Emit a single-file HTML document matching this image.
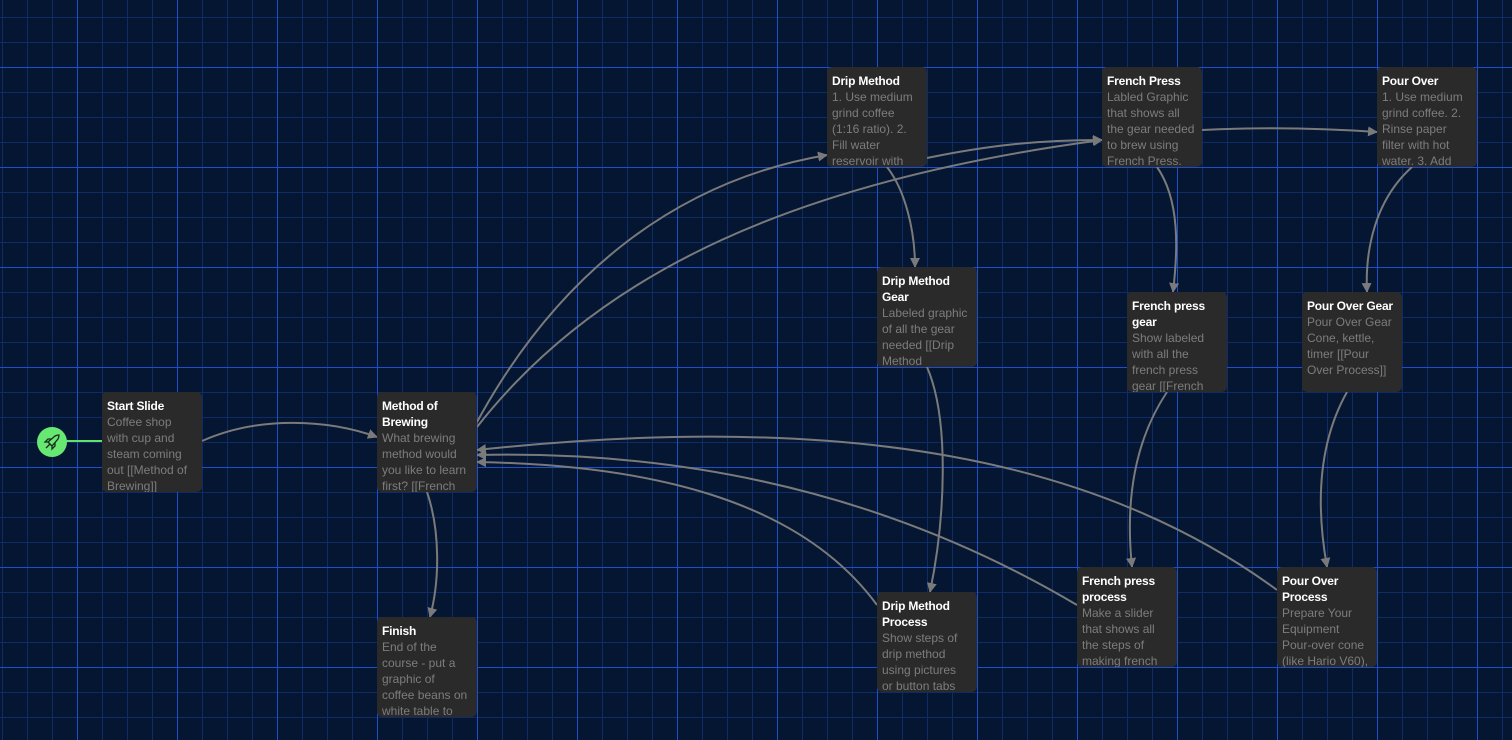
<!DOCTYPE html>
<html><head><meta charset="utf-8"><style>
html,body{margin:0;padding:0;}
body{width:1512px;height:740px;overflow:hidden;position:relative;background:#051633;
font-family:"Liberation Sans","DejaVu Sans",sans-serif;}
.n{position:absolute;width:100px;height:100px;background:#2a2a2a;border-radius:5px;box-sizing:border-box;padding:6px 7px 0 5px;overflow:hidden;font-size:12px;line-height:16px;color:#7d7d7d;}
.n b{display:block;color:#fff;font-weight:bold;letter-spacing:-0.2px;}
svg{position:absolute;left:0;top:0;}
</style></head><body>
<svg width="1512" height="740">
<defs>
<pattern id="g" width="100" height="100" patternUnits="userSpaceOnUse" x="77" y="67">
<path d="M25.5,0V100M50.5,0V100M75.5,0V100M0,25.5H100M0,50.5H100M0,75.5H100" stroke="#0f2c66" stroke-width="1"/>
<path d="M0.5,0V100M0,0.5H100" stroke="#1f4fc8" stroke-width="1"/>
</pattern>
<marker id="a" markerWidth="10" markerHeight="10" refX="9" refY="5" orient="auto" markerUnits="userSpaceOnUse"><path d="M0,0 L10,5 L0,10 z" fill="#7a7a7a"/></marker></defs>
<rect width="1512" height="740" fill="url(#g)"/>
<g fill="none" stroke="#7a7a7a" stroke-width="2" marker-end="url(#a)">
<path d="M202,441 C260,415 330,420 377,437"/>
<path d="M477,422 C560,270 680,180 827,155"/>
<path d="M477,427 C600,270 800,180 1102,140"/>
<path d="M927,158 C990,145 1040,140 1102,140"/>
<path d="M1202,130 C1260,127 1320,128 1377,132"/>
<path d="M887,167 C905,190 915,230 915,267"/>
<path d="M927,367 C950,420 945,520 930,592"/>
<path d="M1157,167 C1180,200 1178,250 1173,292"/>
<path d="M1167,392 C1135,440 1125,500 1132,567"/>
<path d="M1412,167 C1375,200 1365,250 1367,292"/>
<path d="M1347,392 C1320,440 1315,500 1327,567"/>
<path d="M427,492 C440,530 440,580 430,617"/>
<path d="M877,605 C800,500 650,465 477,462"/>
<path d="M1077,605 C900,500 700,450 477,455"/>
<path d="M1277,590 C1100,460 850,410 477,450"/>
</g>
<line x1="66" y1="441" x2="102" y2="441" stroke="#5fe36a" stroke-width="2"/>
<circle cx="52" cy="442" r="15" fill="#66e873"/>
<g transform="translate(52,442)" fill="none" stroke="#1c2a1c" stroke-width="1.3"><path d="M-6,6 L-2,2 M-4,0 L3,-6 C5,-7 7,-7 7,-7 C7,-7 7,-5 6,-3 L0,4 Z M-4,0 L-7,0 L-4,-3 L-1,-3 M0,4 L0,7 L3,4 L3,1"/></g>
</svg>
<div class="n" style="left:102px;top:392px"><b>Start Slide</b>Coffee shop with cup and steam coming out [[Method of Brewing]]</div>
<div class="n" style="left:377px;top:392px"><b>Method of Brewing</b>What brewing method would you like to learn first? [[French</div>
<div class="n" style="left:377px;top:617px"><b>Finish</b>End of the course - put a graphic of coffee beans on white table to</div>
<div class="n" style="left:827px;top:67px"><b>Drip Method</b>1. Use medium grind coffee (1:16 ratio). 2. Fill water reservoir with</div>
<div class="n" style="left:877px;top:267px"><b>Drip Method Gear</b>Labeled graphic of all the gear needed [[Drip Method</div>
<div class="n" style="left:877px;top:592px"><b>Drip Method Process</b>Show steps of drip method using pictures or button tabs</div>
<div class="n" style="left:1102px;top:67px"><b>French Press</b>Labled Graphic that shows all the gear needed to brew using French Press.</div>
<div class="n" style="left:1127px;top:292px"><b>French press gear</b>Show labeled with all the french press gear [[French</div>
<div class="n" style="left:1077px;top:567px"><b>French press process</b>Make a slider that shows all the steps of making french</div>
<div class="n" style="left:1377px;top:67px"><b>Pour Over</b>1. Use medium grind coffee. 2. Rinse paper filter with hot water. 3. Add</div>
<div class="n" style="left:1302px;top:292px"><b>Pour Over Gear</b>Pour Over Gear Cone, kettle, timer [[Pour Over Process]]</div>
<div class="n" style="left:1277px;top:567px"><b>Pour Over Process</b>Prepare Your Equipment Pour-over cone (like Hario V60),</div>
</body></html>
